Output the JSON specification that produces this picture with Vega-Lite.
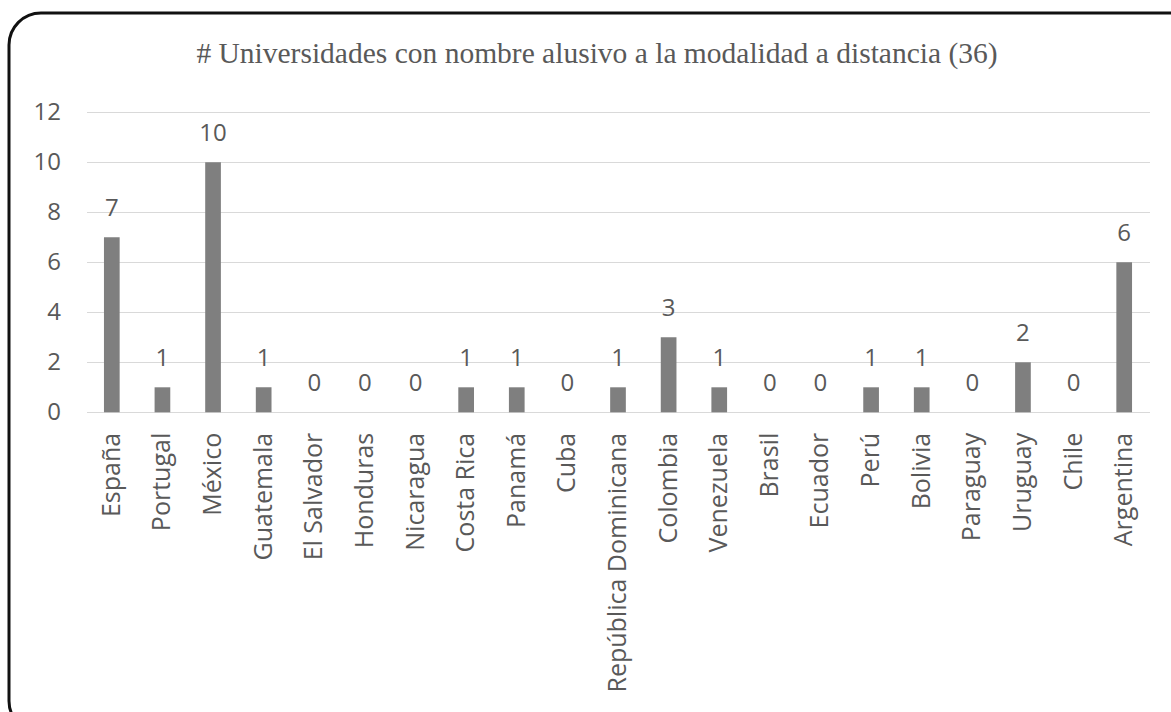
{
  "$schema": "https://vega.github.io/schema/vega-lite/v6.json",
  "autosize": "none",
  "width": 1200,
  "height": 720,
  "padding": {"left": 9, "top": 13, "right": 0, "bottom": 0},
  "background": "white",
  "config": {
    "view": {"stroke": "#111111", "strokeWidth": 3, "cornerRadius": 32, "fill": "white"},
    "font": "Open Sans"
  },
  "title": {
    "text": "# Universidades con nombre alusivo a la modalidad a distancia (36)",
    "font": "Liberation Serif",
    "fontSize": 29.5,
    "fontWeight": "normal",
    "color": "#595959",
    "anchor": "middle",
    "frame": "group",
    "baseline": "alphabetic",
    "offset": -79,
    "dx": -12
  },
  "data": {
    "values": [
      {"pais": "España", "n": 7},
      {"pais": "Portugal", "n": 1},
      {"pais": "México", "n": 10},
      {"pais": "Guatemala", "n": 1},
      {"pais": "El Salvador", "n": 0},
      {"pais": "Honduras", "n": 0},
      {"pais": "Nicaragua", "n": 0},
      {"pais": "Costa Rica", "n": 1},
      {"pais": "Panamá", "n": 1},
      {"pais": "Cuba", "n": 0},
      {"pais": "República Dominicana", "n": 1},
      {"pais": "Colombia", "n": 3},
      {"pais": "Venezuela", "n": 1},
      {"pais": "Brasil", "n": 0},
      {"pais": "Ecuador", "n": 0},
      {"pais": "Perú", "n": 1},
      {"pais": "Bolivia", "n": 1},
      {"pais": "Paraguay", "n": 0},
      {"pais": "Uruguay", "n": 2},
      {"pais": "Chile", "n": 0},
      {"pais": "Argentina", "n": 6}
    ]
  },
  "encoding": {
    "x": {
      "field": "pais",
      "type": "nominal",
      "sort": null,
      "title": null,
      "scale": {"range": [77.5, 1140.5], "paddingInner": 0.69, "paddingOuter": 0.345},
      "axis": {
        "orient": "bottom",
        "offset": -320.7,
        "domain": false,
        "ticks": false,
        "grid": false,
        "labelAngle": -90,
        "labelPadding": 20,
        "labelFont": "Open Sans",
        "labelFontSize": 25,
        "labelColor": "#595959",
        "labelLimit": 0
      }
    },
    "y": {
      "field": "n",
      "type": "quantitative",
      "title": null,
      "scale": {"domain": [0, 12], "range": [399.3, 99.3], "nice": false},
      "axis": {
        "orient": "left",
        "offset": -77.5,
        "values": [0, 2, 4, 6, 8, 10, 12],
        "domain": false,
        "ticks": false,
        "grid": true,
        "gridColor": "#d9d9d9",
        "gridWidth": 1.2,
        "labelPadding": 26,
        "labelFont": "Open Sans",
        "labelFontSize": 24,
        "labelColor": "#595959"
      }
    }
  },
  "layer": [
    {"mark": {"type": "bar", "color": "#7f7f7f"}},
    {
      "mark": {"type": "text", "baseline": "alphabetic", "dy": -21, "font": "Open Sans", "fontSize": 24, "color": "#595959"},
      "encoding": {"text": {"field": "n", "type": "quantitative"}}
    }
  ]
}
